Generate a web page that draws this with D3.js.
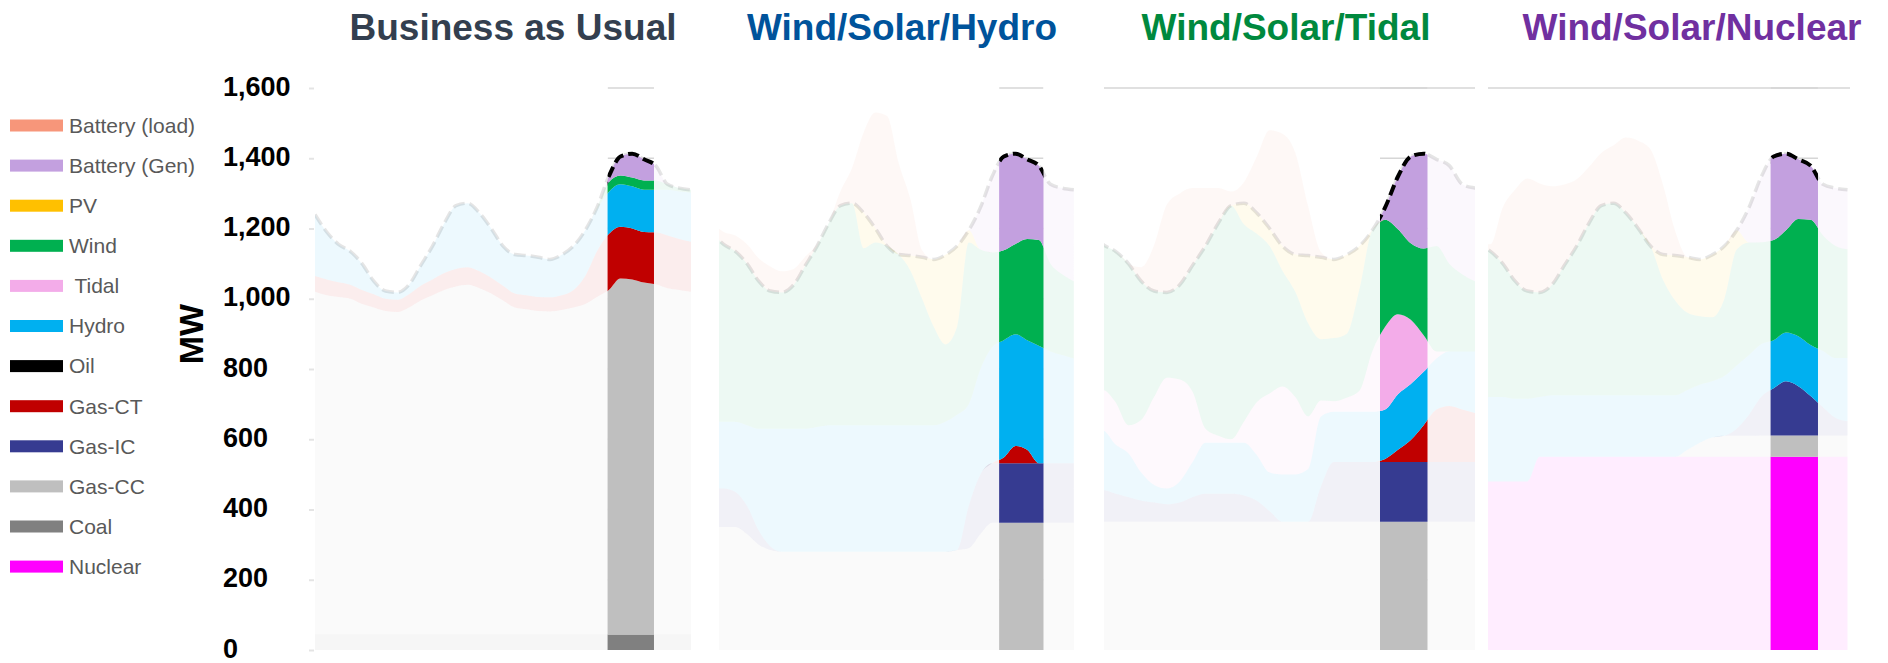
<!DOCTYPE html>
<html>
<head>
<meta charset="utf-8">
<script src="https://cdn.jsdelivr.net/npm/d3@7"></script>
<style>
  html, body { margin: 0; padding: 0; background: #ffffff; }
  svg { display: block; font-family: "Liberation Sans", Arial, sans-serif; }
</style>
</head>
<body>
<svg id="chart" width="1888" height="663"></svg>
<script>
// ---------- shared categories ----------
const hours = [0,1,2,3,4,5,6,7,8,9,10,11,12,13,14,15,16,17,18,19,20,21,22,23,24,25,26,27,28,29,30,31,32];
const load  = [1240,1190,1155,1135,1100,1050,1022,1018,1040,1095,1150,1215,1265,1272,1244,1200,1150,1126,1123,1118,1112,1125,1150,1195,1260,1348,1405,1413,1397,1379,1326,1315,1310];

const legendNames  = ["Battery (load)", "Battery (Gen)", "PV", "Wind", " Tidal", "Hydro", "Oil", "Gas-CT", "Gas-IC", "Gas-CC", "Coal", "Nuclear"];
const legendColors = ["#F7967A", "#C3A0DF", "#FFC000", "#00B050", "#F3ACE9", "#00B0F0", "#000000", "#C00000", "#363B91", "#BFBFBF", "#808080", "#FF00FF"];

const scenarioTitles = ["Business as Usual", "Wind/Solar/Hydro", "Wind/Solar/Tidal", "Wind/Solar/Nuclear"];
const titleColors    = ["#333F4F", "#00539B", "#00893E", "#7030A0"];

const yTicks = [0, 200, 400, 600, 800, 1000, 1200, 1400, 1600];

// ---------- Business as Usual (MW) ----------
const bauCoal    = [44,44,44,44,44,44,44,44,44,44,44,44,44,44,44,44,44,44,44,44,44,44,44,44,44,44,44,44,44,44,44,44,44];
const bauGasCC   = [976,966,961,956,941,931,921,918,931,951,966,981,991,996,986,971,951,931,926,921,920,924,931,941,961,981,1014,1011,1002,997,986,981,976];
const bauGasCT   = [45,45,42,40,40,38,35,35,38,42,45,48,50,50,48,45,42,40,40,40,40,42,50,80,130,159,147,145,144,148,150,145,142];
const bauHydro   = [175,135,108,95,75,37,22,21,27,58,95,142,180,182,166,140,113,111,113,113,108,115,125,130,120,120,121,120,120,121,130,135,140];
const bauWind    = [0,0,0,0,0,0,0,0,0,0,0,0,0,0,0,0,0,0,0,0,0,0,0,0,5,28,25,25,27,27,16,10,8];
const bauBattGen = [0,0,0,0,0,0,0,0,0,0,0,0,0,0,0,0,0,0,0,0,0,0,0,0,0,16,54,68,60,42,0,0,0];

// ---------- Wind/Solar/Hydro (MW) ----------
const wshGasCC    = [350,350,350,350,330,300,285,280,280,280,280,280,280,280,280,280,280,280,280,280,280,280,285,290,330,362,362,362,362,362,362,362,362];
const wshGasIC    = [110,110,110,100,80,40,10,0,0,0,0,0,0,0,0,0,0,0,0,0,0,0,0,120,170,170,170,170,170,170,170,170,170];
const wshGasCT    = [0,0,0,0,0,0,0,0,0,0,0,0,0,0,0,0,0,0,0,0,0,0,0,0,0,0,16,49,38,0,0,0,0];
const wshHydro    = [190,190,190,200,230,290,335,350,350,350,355,360,360,360,360,360,360,360,360,360,360,370,385,290,300,330,334,318,312,334,318,308,298];
const wshWind     = [590,540,505,485,460,420,392,388,410,465,515,575,625,632,504,520,510,486,440,360,280,220,250,460,340,270,256,257,288,301,250,230,220];
const wshPV       = [0,0,0,0,0,0,0,0,0,0,0,0,0,0,100,40,0,0,43,118,192,255,230,35,0,0,0,0,0,0,0,0,0];
const wshBattGen  = [0,0,0,0,0,0,0,0,0,0,0,0,0,0,0,0,0,0,0,0,0,0,0,0,120,216,267,257,227,212,226,245,260];
const wshBattLoad = [30,30,35,45,55,65,70,60,45,25,5,0,40,100,230,330,370,260,160,20,0,0,0,0,0,0,0,0,0,0,0,0,0];

// ---------- Wind/Solar/Tidal (MW) ----------
const wstGasCC    = [365,365,365,365,365,365,365,365,365,365,365,365,365,365,365,365,365,365,365,365,365,365,365,365,365,365,365,365,365,365,365,365,365];
const wstGasIC    = [90,90,90,80,70,60,55,50,55,70,80,80,80,75,60,30,0,0,0,100,170,170,170,170,170,170,170,170,170,170,170,170,170];
const wstGasCT    = [0,0,0,0,0,0,0,0,0,0,0,0,0,0,0,0,0,0,0,0,0,0,0,0,9,35,63,105,150,160,150,140,130];
const wstHydro    = [170,160,170,140,125,80,50,45,60,100,145,145,145,150,130,110,135,135,150,200,143,143,143,143,141,158,159,152,145,155,165,175,185];
const wstTidal    = [100,110,115,120,80,150,250,315,290,200,40,20,10,60,150,225,250,220,150,45,30,40,60,172,235,228,183,104,20,0,0,0,0];
const wstWind     = [515,465,415,430,460,395,302,243,270,360,520,605,665,562,480,420,330,300,265,175,180,182,290,345,305,242,218,247,300,250,220,200,190];
const wstPV       = [0,0,0,0,0,0,0,0,0,0,0,0,0,60,59,50,70,106,193,233,224,225,122,0,0,0,0,0,0,0,0,0,0];
const wstBattGen  = [0,0,0,0,0,0,0,0,0,0,0,0,0,0,0,0,0,0,0,0,0,0,0,0,35,150,247,270,247,279,256,265,270];
const wstBattLoad = [0,0,0,0,0,40,130,250,260,220,165,100,40,60,160,280,320,290,140,15,0,0,0,0,0,0,0,0,0,0,0,0,0];

// ---------- Wind/Solar/Nuclear (MW) ----------
const wsnNuclear  = [480,480,480,480,480,480,480,550,550,550,550,550,550,550,550,550,550,550,550,550,550,550,550,550,550,550,550,550,550,550,550,550,550];
const wsnGasCC    = [0,0,0,0,0,0,0,0,0,0,0,0,0,0,0,0,0,0,0,20,40,55,60,60,60,61,61,61,61,61,61,61,61];
const wsnGasIC    = [0,0,0,0,0,0,0,0,0,0,0,0,0,0,0,0,0,0,0,0,0,0,0,20,60,110,134,154,140,112,80,50,40];
const wsnHydro    = [230,230,235,240,240,235,235,170,175,175,175,175,175,175,175,175,175,175,175,170,165,160,170,180,170,150,137,139,142,145,160,170,180];
const wsnWind     = [530,480,440,415,380,335,307,298,315,370,425,490,540,547,519,475,425,330,270,220,195,182,220,330,320,290,285,291,334,357,330,320,310];
const wsnPV       = [0,0,0,0,0,0,0,0,0,0,0,0,0,0,0,0,0,71,128,158,162,178,150,55,0,0,0,0,0,0,0,0,0];
const wsnBattGen  = [0,0,0,0,0,0,0,0,0,0,0,0,0,0,0,0,0,0,0,0,0,0,0,0,100,187,238,218,170,154,145,164,169];
const wsnBattLoad = [0,0,0,20,160,260,320,310,280,230,190,160,150,165,215,250,275,200,70,0,0,0,0,0,0,0,0,0,0,0,0,0,0];

// series per scenario, keyed by legend name
const scenarioSeries = [
  { "Coal": bauCoal, "Gas-CC": bauGasCC, "Gas-CT": bauGasCT, "Hydro": bauHydro, "Wind": bauWind, "Battery (Gen)": bauBattGen },
  { "Gas-CC": wshGasCC, "Gas-IC": wshGasIC, "Gas-CT": wshGasCT, "Hydro": wshHydro, "Wind": wshWind, "PV": wshPV, "Battery (Gen)": wshBattGen, "Battery (load)": wshBattLoad },
  { "Gas-CC": wstGasCC, "Gas-IC": wstGasIC, "Gas-CT": wstGasCT, "Hydro": wstHydro, " Tidal": wstTidal, "Wind": wstWind, "PV": wstPV, "Battery (Gen)": wstBattGen, "Battery (load)": wstBattLoad },
  { "Nuclear": wsnNuclear, "Gas-CC": wsnGasCC, "Gas-IC": wsnGasIC, "Hydro": wsnHydro, "Wind": wsnWind, "PV": wsnPV, "Battery (Gen)": wsnBattGen, "Battery (load)": wsnBattLoad }
];

// highlighted window (hours) for each scenario
const highlightStart = [24.9, 25.6, 23.6, 25.75];
const highlightEnd   = [28.85, 29.4, 27.3, 29.6];

// ---------- layout ----------
const panelLeft   = [315, 719, 1104, 1488];
const panelRight  = [691, 1075, 1475, 1850];
const panelHourLo = [0, 1.6, 2.1, 2.8];
const panelHourHi = [32, 32.1, 31.0, 32.2];
const titleCenter = [513, 902, 1286, 1692];
const topLineFull = [false, false, true, true];
const FADE = 0.07;

const svg = d3.select("#chart");
const colorOf = d3.scaleOrdinal().domain(legendNames).range(legendColors);
const stackKeys = legendNames.slice().reverse();   // Nuclear at the bottom, Battery (load) on top
const y = d3.scaleLinear().domain([0, 1600]).range([650, 88]);
const defs = svg.append("defs");

// ---------- legend ----------
const legend = svg.append("g");
legendNames.forEach((name, i) => {
  const cy = 125.5 + i * 40.1;
  legend.append("rect")
    .attr("x", 10).attr("y", cy - 6).attr("width", 53).attr("height", 12)
    .attr("fill", colorOf(name));
  legend.append("text")
    .attr("x", 69).attr("y", cy).attr("dy", "0.35em")
    .style("white-space", "pre")
    .attr("font-size", 21).attr("fill", "#595959")
    .text(name);
});

// ---------- y axis ----------
const yAxis = d3.axisLeft(y).tickValues(yTicks).tickFormat(d3.format(",")).tickSize(5).tickPadding(0);
const gAxis = svg.append("g").attr("transform", "translate(314,0)").call(yAxis);
gAxis.select(".domain").remove();
gAxis.selectAll(".tick line").attr("stroke", "#e4e4e4").attr("stroke-width", 2);
gAxis.selectAll(".tick text")
  .attr("x", -91).attr("text-anchor", "start").attr("dy", "0.26em")
  .attr("font-family", "'Liberation Sans', Arial, sans-serif")
  .attr("font-size", 27).attr("font-weight", "bold").attr("fill", "#000");

svg.append("text")
  .attr("transform", "translate(191,334) rotate(-90)")
  .attr("text-anchor", "middle").attr("dy", "0.35em")
  .attr("font-size", 34).attr("font-weight", "bold").attr("fill", "#000")
  .text("MW");

// ---------- scenario panels ----------
scenarioTitles.forEach((title, p) => {
  const series = scenarioSeries[p];
  const rows = hours.map((h, i) => {
    const row = { hour: h, load: load[i] };
    stackKeys.forEach(k => { row[k] = series[k] ? series[k][i] : 0; });
    return row;
  });
  const layers = d3.stack().keys(stackKeys)(rows);

  const x = d3.scaleLinear().domain([panelHourLo[p], panelHourHi[p]]).range([panelLeft[p], panelRight[p]]);
  const area = d3.area()
    .x(d => x(d.data.hour)).y0(d => y(d[0])).y1(d => y(d[1]))
    .curve(d3.curveMonotoneX);
  const loadLine = d3.line().x(d => x(d.hour)).y(d => y(d.load)).curve(d3.curveMonotoneX);

  defs.append("clipPath").attr("id", "panel-clip-" + p)
    .append("rect").attr("x", panelLeft[p]).attr("y", 60)
    .attr("width", panelRight[p] - panelLeft[p]).attr("height", 600);
  const xa = x(highlightStart[p]), xb = x(highlightEnd[p]);
  defs.append("clipPath").attr("id", "strip-clip-" + p)
    .append("rect").attr("x", xa).attr("y", 60).attr("width", xb - xa).attr("height", 600);

  // title
  svg.append("text")
    .attr("x", titleCenter[p]).attr("y", 40).attr("text-anchor", "middle")
    .attr("font-size", 37).attr("font-weight", "bold").attr("fill", titleColors[p])
    .text(title);

  // faded full-day view
  const faded = svg.append("g").attr("clip-path", "url(#panel-clip-" + p + ")");
  if (topLineFull[p]) {
    faded.append("line")
      .attr("x1", panelLeft[p]).attr("x2", panelRight[p])
      .attr("y1", y(1600)).attr("y2", y(1600))
      .attr("stroke", "#d6d6d6").attr("stroke-width", 1.5);
  }
  faded.selectAll("path.layer").data(layers).join("path")
    .attr("class", "layer")
    .attr("d", area)
    .attr("fill", d => colorOf(d.key))
    .attr("fill-opacity", FADE);
  faded.append("path").datum(rows)
    .attr("d", loadLine).attr("fill", "none")
    .attr("stroke", "#000").attr("stroke-opacity", 0.1)
    .attr("stroke-width", 3.5).attr("stroke-dasharray", "12,5");

  // highlighted window at full colour
  const strip = svg.append("g").attr("clip-path", "url(#strip-clip-" + p + ")");
  strip.selectAll("line.grid").data(yTicks.filter(v => v > 0)).join("line")
    .attr("class", "grid")
    .attr("x1", xa).attr("x2", xb)
    .attr("y1", d => y(d)).attr("y2", d => y(d))
    .attr("stroke", "#d6d6d6").attr("stroke-width", 1.5);
  strip.selectAll("path.layer").data(layers).join("path")
    .attr("class", "layer")
    .attr("d", area)
    .attr("fill", d => colorOf(d.key));
  strip.append("path").datum(rows)
    .attr("d", loadLine).attr("fill", "none")
    .attr("stroke", "#000").attr("stroke-width", 4)
    .attr("stroke-dasharray", "11,5");
});
</script>
</body>
</html>
